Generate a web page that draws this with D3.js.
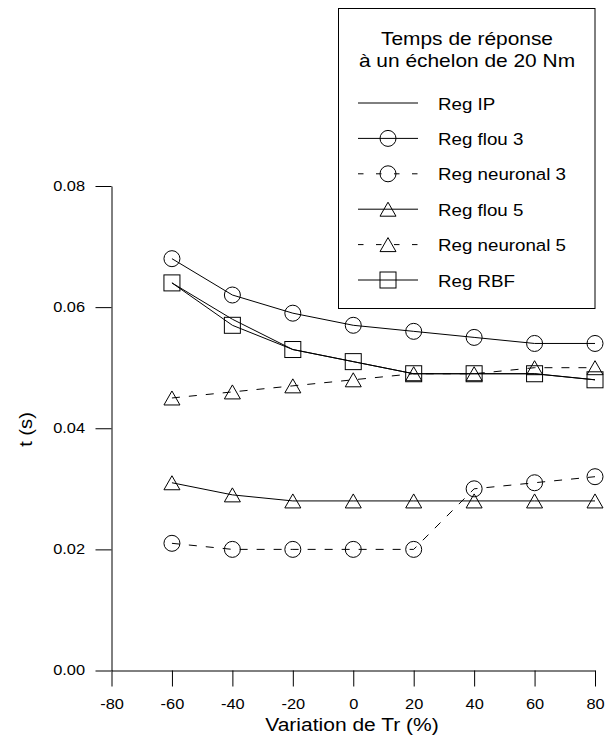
<!DOCTYPE html>
<html><head><meta charset="utf-8">
<script src="https://cdn.jsdelivr.net/npm/d3@7"></script>
<style>body{margin:0;background:#fff}svg{display:block;font-family:"Liberation Sans",Arial,sans-serif}</style>
</head><body>
<script>
const xValues = [-60, -40, -20, 0, 20, 40, 60, 80];
const regIP = [0.064, 0.058, 0.053, 0.051, 0.049, 0.049, 0.049, 0.048];
const regFlou3 = [0.068, 0.062, 0.059, 0.057, 0.056, 0.055, 0.054, 0.054];
const regNeuronal3 = [0.021, 0.020, 0.020, 0.020, 0.020, 0.030, 0.031, 0.032];
const regFlou5 = [0.031, 0.029, 0.028, 0.028, 0.028, 0.028, 0.028, 0.028];
const regNeuronal5 = [0.045, 0.046, 0.047, 0.048, 0.049, 0.049, 0.050, 0.050];
const regRBF = [0.064, 0.057, 0.053, 0.051, 0.049, 0.049, 0.049, 0.048];
const xMajorTicks = [-80, -60, -40, -20, 0, 20, 40, 60, 80];
const xMinorTicks = [-70, -50, -30, -10, 10, 30, 50, 70];
const yMajorTicks = [0, 0.02, 0.04, 0.06, 0.08];
const yMinorTicks = [0.01, 0.03, 0.05, 0.07];
const legendTitle = ["Temps de réponse", "à un échelon de 20 Nm"];

const series = [
  {name: "Reg IP", values: regIP, marker: null, dashed: false},
  {name: "Reg flou 3", values: regFlou3, marker: "circle", dashed: false},
  {name: "Reg neuronal 3", values: regNeuronal3, marker: "circle", dashed: true},
  {name: "Reg flou 5", values: regFlou5, marker: "triangle", dashed: false},
  {name: "Reg neuronal 5", values: regNeuronal5, marker: "triangle", dashed: true},
  {name: "Reg RBF", values: regRBF, marker: "square", dashed: false}
];

const W = 605, H = 738;
const svg = d3.select("body").append("svg").attr("width", W).attr("height", H);
const x = d3.scaleLinear().domain([-80, 80]).range([111.5, 595]);
const y = d3.scaleLinear().domain([0, 0.08]).range([670.5, 186]);

function stretch(sel, k) {
  sel.each(function() {
    const w = this.getComputedTextLength();
    if (w > 0) d3.select(this).attr("textLength", w * k).attr("lengthAdjust", "spacingAndGlyphs");
  });
}

// axes
const gx = svg.append("g").attr("transform", "translate(0,670.5)");
gx.call(d3.axisBottom(x).tickValues(xMinorTicks).tickSize(8).tickFormat("").tickSizeOuter(0));
gx.call(d3.axisBottom(x).tickValues(xMajorTicks).tickSize(16).tickPadding(13).tickFormat(d3.format("d")).tickSizeOuter(0));
const gy = svg.append("g").attr("transform", "translate(111.5,0)");
gy.call(d3.axisLeft(y).tickValues(yMinorTicks).tickSize(8).tickFormat("").tickSizeOuter(0));
gy.call(d3.axisLeft(y).tickValues(yMajorTicks).tickSize(16).tickPadding(10.5).tickFormat(d3.format(".2f")).tickSizeOuter(0));
svg.selectAll(".tick text").attr("font-size", 14).attr("font-family", "Liberation Sans, Arial, sans-serif").attr("fill", "#000");
gx.selectAll(".tick text").text(d => String(d).replace("−", "-"));
stretch(svg.selectAll(".tick text"), 1.17);
svg.selectAll(".domain, .tick line").attr("stroke", "#000");

stretch(svg.append("text").attr("x", 352).attr("y", 731).attr("text-anchor", "middle")
  .attr("font-size", 17.5).text("Variation de Tr (%)"), 1.2);
stretch(svg.append("text").attr("transform", "translate(32,429.5) rotate(-90)").attr("text-anchor", "middle")
  .attr("font-size", 18).text("t (s)"), 1.12);

function drawMarker(g, type, cx, cy) {
  if (type === "circle") {
    g.append("circle").attr("cx", cx).attr("cy", cy).attr("r", 8)
      .attr("fill", "none").attr("stroke", "#000").attr("stroke-width", 1);
  } else if (type === "triangle") {
    g.append("path").attr("d", `M${cx},${cy-7}L${cx+8},${cy+7}L${cx-8},${cy+7}Z`)
      .attr("fill", "none").attr("stroke", "#000").attr("stroke-width", 1);
  } else if (type === "square") {
    g.append("rect").attr("x", cx-8).attr("y", cy-8).attr("width", 16).attr("height", 16)
      .attr("fill", "none").attr("stroke", "#000").attr("stroke-width", 1);
  }
}

const line = d3.line().x((d, i) => x(xValues[i])).y(d => y(d));
const plot = svg.append("g");
series.forEach(s => {
  plot.append("path").datum(s.values).attr("d", line)
    .attr("fill", "none").attr("stroke", "#000").attr("stroke-width", 1)
    .attr("stroke-dasharray", s.dashed ? "8,9" : null);
  if (s.marker) s.values.forEach((v, i) => drawMarker(plot, s.marker, x(xValues[i]), y(v)));
});

// legend
const lg = svg.append("g");
lg.append("rect").attr("x", 338.5).attr("y", 8.5).attr("width", 256.5).attr("height", 300)
  .attr("fill", "#fff").attr("stroke", "#000").attr("stroke-width", 1);
legendTitle.forEach((t, i) => stretch(lg.append("text").attr("x", 467).attr("y", 45 + i * 22)
  .attr("text-anchor", "middle").attr("font-size", 18.5).text(t), 1.13));
series.forEach((s, i) => {
  const cy = 103 + i * 35.4;
  lg.append("line").attr("x1", 358).attr("x2", 418).attr("y1", cy).attr("y2", cy)
    .attr("stroke", "#000").attr("stroke-width", 1)
    .attr("stroke-dasharray", s.dashed ? "5.5,12.5" : null);
  if (s.marker) drawMarker(lg, s.marker, 388, cy);
  stretch(lg.append("text").attr("x", 438).attr("y", cy + 6.5).attr("font-size", 16.3).text(s.name), 1.15);
});
</script>
</body></html>
